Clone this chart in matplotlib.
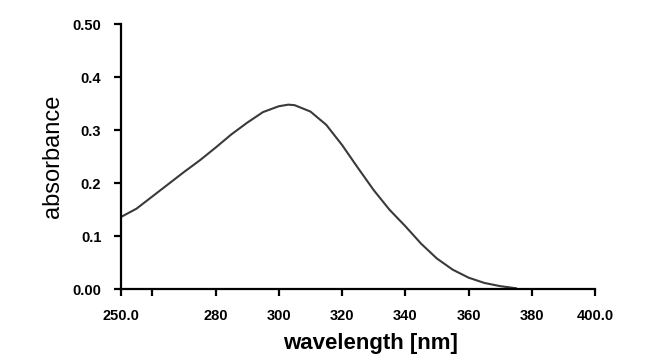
import matplotlib
matplotlib.use('Agg')
import matplotlib.pyplot as plt

# absorbance spectrum
wavelength = [250, 255, 260, 265, 270, 275, 280, 285, 290, 295, 300, 303, 305,
              310, 315, 320, 325, 330, 335, 340, 345, 350, 355, 360, 365, 370, 375]
absorbance = [0.136, 0.152, 0.175, 0.198, 0.221, 0.243, 0.267, 0.292, 0.314, 0.334,
              0.345, 0.348, 0.347, 0.335, 0.310, 0.272, 0.229, 0.187, 0.150, 0.119,
              0.086, 0.058, 0.037, 0.022, 0.012, 0.006, 0.002]

xticks = [250, 260, 280, 300, 320, 340, 360, 380, 400]
xticklabels = ['250.0', '', '280', '300', '320', '340', '360', '380', '400.0']
yticks = [0.0, 0.1, 0.2, 0.3, 0.4, 0.5]
yticklabels = ['0.00', '0.1', '0.2', '0.3', '0.4', '0.50']

plt.rcParams['font.family'] = ['Liberation Sans', 'DejaVu Sans']

fig = plt.figure(figsize=(6.64, 3.62), dpi=100)
ax = fig.add_axes([0.1818, 0.2008, 0.7143, 0.7329])

ax.plot(wavelength, absorbance, color='#3a3a3a', linewidth=1.5)

ax.set_xlim(250, 400)
ax.set_ylim(0, 0.5)
ax.set_xticks(xticks)
ax.set_xticklabels(xticklabels, fontweight='bold', fontsize=10.5)
ax.set_yticks(yticks)
ax.set_yticklabels(yticklabels, fontweight='bold', fontsize=10.5)

for side in ['top', 'right']:
    ax.spines[side].set_visible(False)
for side in ['left', 'bottom']:
    ax.spines[side].set_linewidth(1.6)
ax.tick_params(direction='out', length=5, width=1.6, pad=9, colors='black')

ax.set_xlabel('wavelength [nm]', fontsize=16, fontweight='bold')
ax.set_ylabel('absorbance', fontsize=17)
ax.xaxis.set_label_coords(0.526, -0.163)
ax.yaxis.set_label_coords(-0.12, 0.5)

fig.savefig('out.png', dpi=100)
